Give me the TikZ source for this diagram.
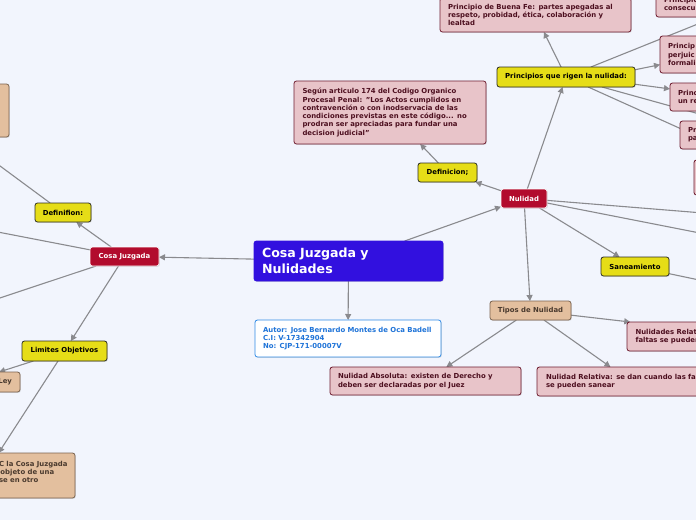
\documentclass[tikz,border=0pt]{standalone}
\usepackage{fontspec}
\setmainfont{DejaVu Sans}
\usetikzlibrary{arrows.meta,shadows}
\definecolor{bgc}{HTML}{F2F5FD}
\definecolor{mainblue}{HTML}{3210DF}
\definecolor{yel}{HTML}{E6DD17}
\definecolor{yelb}{HTML}{2E2E22}
\definecolor{crim}{HTML}{B20B2D}
\definecolor{pinkf}{HTML}{E8C4C9}
\definecolor{pinkb}{HTML}{6F1D30}
\definecolor{pinkt}{HTML}{4D0F1F}
\definecolor{tanf}{HTML}{E3BF9E}
\definecolor{tanb}{HTML}{7B6450}
\definecolor{tant}{HTML}{4A3A2E}
\definecolor{lgray}{HTML}{8A8A8E}
\definecolor{authb}{HTML}{2F8AE6}
\definecolor{autht}{HTML}{1E73D8}
\pgfdeclarelayer{bg}
\pgfdeclarelayer{lines}
\pgfsetlayers{bg,lines,main}
\begin{document}
\begin{tikzpicture}[x=1pt,y=-1pt,
  every node/.style={outer sep=0pt},
  sfont/.style={font=\bfseries\fontsize{6.9}{8.3}\selectfont},
  basebox/.style={rectangle, rounded corners=2.5pt, line width=0.8pt, inner ysep=0pt, sfont,
    drop shadow={shadow xshift=0.8pt, shadow yshift=-0.8pt, opacity=0.25}},
  titlebox/.style={basebox, fill=mainblue, draw=mainblue, text=white, align=left, inner xsep=8pt,
    font=\bfseries\fontsize{12.6}{16}\selectfont},
  authbox/.style={basebox, fill=white, draw=authb, text=autht, align=left, inner xsep=8pt},
  redbox/.style={basebox, fill=crim, draw=white, line width=0.6pt, text=white},
  yelbox/.style={basebox, fill=yel, draw=yelb, text=black},
  pinkbox/.style={basebox, fill=pinkf, draw=pinkb, text=pinkt, align=left, inner xsep=8pt},
  tanbox/.style={basebox, fill=tanf, draw=tanb, text=tant},
  conn/.style={draw=lgray, line width=1.1pt, -{Triangle[length=6pt,width=6pt]}},
  plainconn/.style={draw=lgray, line width=1.1pt}
]
\useasboundingbox (0,0) rectangle (696,520);
\begin{pgfonlayer}{bg}
  \fill[bgc] (0,0) rectangle (696,520);
\end{pgfonlayer}

% central
\node[titlebox, minimum width=189pt, minimum height=40pt, text width=173pt] (main) at (348.5,261) {Cosa Juzgada y\\Nulidades};
\node[authbox, minimum width=186pt, minimum height=37pt, text width=170pt] (auth) at (348,338.5)
  {Autor: Jose Bernardo Montes de Oca Badell\\C.I: V-17342904\\No: CJP-171-00007V};

% left branch
\node[redbox, minimum width=69pt, minimum height=19pt] (cj) at (124.5,256.5) {Cosa Juzgada};
\node[yelbox, minimum width=56pt, minimum height=19pt] (def1) at (63,212.5) {Definifion:};
\node[yelbox, minimum width=85pt, minimum height=20pt] (lim) at (64.5,351) {Limites Objetivos};
\node[tanbox, minimum width=168pt, minimum height=53pt] (tantl) at (-75,110.5) {};
\node[tanbox, minimum width=104pt, minimum height=20pt, text width=88pt, align=right, inner xsep=8pt] (ley) at (-32,382) {Ley};
\node[tanbox, minimum width=182pt, minimum height=45pt] (tanbl) at (-16,475.5) {};
\node[sfont, text=tant, anchor=west, align=left, inner sep=0pt] (tanbltxt) at (-1,472)
  {C la Cosa Juzgada\\\hspace*{1.5pt}objeto de una\\se en otro};
\coordinate (cjL1) at (-40,224.7);
\coordinate (cjL2) at (-40,311.3);

% right branch
\node[redbox, minimum width=46pt, minimum height=19pt] (nul) at (524,198.5) {Nulidad};
\node[yelbox, minimum width=59pt, minimum height=19pt] (def2) at (447.5,172.5) {Definicion;};
\node[pinkbox, minimum width=192pt, minimum height=63pt, text width=175pt, inner xsep=8.5pt] (segun) at (390,112.5)
  {Según articulo 174 del Codigo Organico\\Procesal Penal: "Los Actos cumplidos en\\contravención o con inodservacia de las\\condiciones previstas en este código... no\\prodran ser apreciadas para fundar una\\decision judicial"};
\node[yelbox, minimum width=138pt, minimum height=20pt] (princ) at (566,77) {Principios que rigen la nulidad:};
\node[pinkbox, minimum width=191pt, minimum height=34pt, text width=175pt] (buena) at (535.5,15)
  {Principio de Buena Fe: partes apegadas al\\respeto, probidad, ética, colaboración y\\lealtad};
\node[pinkbox, minimum width=190pt, minimum height=26pt, text width=174pt] (ptr) at (751,4) {Principio\\consecu};
\node[pinkbox, minimum width=56pt, minimum height=37pt, text width=40pt] (pp) at (688,54.5) {Princip\\perjuic\\formali};
\node[pinkbox, minimum width=102pt, minimum height=28pt, text width=86pt] (pu) at (721,97) {Princ\\un re};
\node[pinkbox, minimum width=190pt, minimum height=28pt, text width=174pt] (pa) at (775,135) {Pr\\pa};
\node[pinkbox, minimum width=190pt, minimum height=35pt, text width=174pt] (em) at (789,177.5) {};
\coordinate (prTR) at (760,-1);
\coordinate (nuR1) at (760,217.6);
\coordinate (nuR2) at (760,244.8);

\node[yelbox, minimum width=68pt, minimum height=19pt] (san) at (635,266.5) {Saneamiento};
\coordinate (saR) at (760,292.8);

\node[tanbox, minimum width=81pt, minimum height=19pt] (tipos) at (530.5,310.5) {Tipos de Nulidad};
\node[pinkbox, minimum width=258pt, minimum height=29pt, text width=241pt, inner xsep=8.5pt] (nr) at (756,336.5) {Nulidades Relat\\faltas se pueden};
\node[pinkbox, minimum width=191pt, minimum height=28pt, text width=175pt] (abs) at (425.5,381) {Nulidad Absoluta: existen de Derecho y\\deben ser declaradas por el Juez};
\node[pinkbox, minimum width=188pt, minimum height=29pt, text width=170pt, inner xsep=9pt] (rel) at (631,381.5) {Nulidad Relativa: se dan cuando las fa\\se pueden sanear};

\begin{pgfonlayer}{lines}
  \draw[conn] (main) -- (cj);
  \draw[conn] (main) -- (nul);
  \draw[conn] (main) -- (auth);
  \draw[conn] (cj) -- (def1);
  \draw[conn] (cj) -- (lim);
  \draw[plainconn] (cj) -- (cjL1);
  \draw[plainconn] (cj) -- (cjL2);
  \draw[conn] (def1) -- (tantl);
  \draw[conn] (lim) -- (ley);
  \draw[conn] (lim) -- (tanbl);
  \draw[conn] (nul) -- (def2);
  \draw[conn] (def2) -- (segun);
  \draw[conn] (nul) -- (princ);
  \draw[conn] (princ) -- (buena);
  \draw[plainconn] (princ) -- (prTR);
  \draw[conn] (princ.6.5) -- (pp.200.6);
  \draw[conn] (princ.-6) -- (pu.171);
  \draw[conn] (princ) -- (pa);
  \draw[conn] (princ) -- (em);
  \draw[plainconn] (nul) -- (nuR1);
  \draw[plainconn] (nul) -- (nuR2);
  \draw[conn] (nul) -- (san);
  \draw[plainconn] (san) -- (saR);
  \draw[conn] (nul) -- (tipos);
  \draw[conn] (tipos) -- (nr);
  \draw[conn] (tipos) -- (abs);
  \draw[conn] (tipos) -- (rel);
\end{pgfonlayer}
\end{tikzpicture}
\end{document}
